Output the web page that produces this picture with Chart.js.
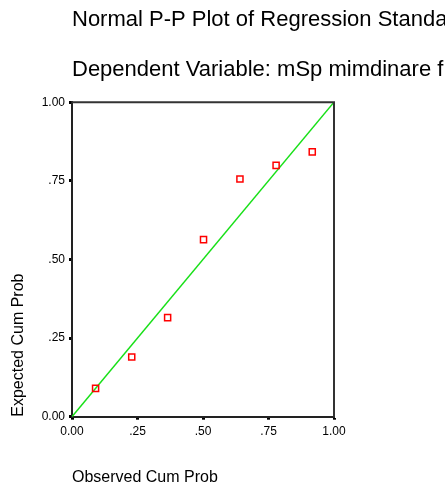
<!DOCTYPE html>
<html>
<head>
<meta charset="utf-8">
<script src="https://cdn.jsdelivr.net/npm/chart.js@4.4.1/dist/chart.umd.min.js"></script>
<style>
  html, body { margin: 0; padding: 0; background: #fff; }
  #wrap { width: 445px; height: 490px; position: relative; }
</style>
</head>
<body>
<div id="wrap"><canvas id="c" width="445" height="490"></canvas></div>
<script>
const titleLines = ['Normal P-P Plot of Regression Standardized Residual', 'Dependent Variable: mSp mimdinare f'];
const xAxisTitle = 'Observed Cum Prob';
const yAxisTitle = 'Expected Cum Prob';
const tickValues = [0, 0.25, 0.5, 0.75, 1];
const tickLabels = ['0.00', '.25', '.50', '.75', '1.00'];
const observedCumProb = [0.090, 0.228, 0.365, 0.502, 0.641, 0.779, 0.917];
const expectedCumProb = [0.090, 0.190, 0.315, 0.563, 0.756, 0.799, 0.842];
const refLineX = [0, 1];
const refLineY = [0, 1];

const FONT = "'Liberation Sans', Arial, sans-serif";

const labelFor = v => {
  const i = tickValues.findIndex(t => Math.abs(t - v) < 1e-9);
  return i >= 0 ? tickLabels[i] : '';
};

const framePlugin = {
  id: 'frame',
  afterLayout(chart) {
    if (chart.titleBlock) {
      chart.titleBlock.left = 72;
      chart.titleBlock.right = 3000;
    }
  },
  afterDatasetsDraw(chart) {
    const {ctx, chartArea: a} = chart;
    ctx.save();
    ctx.strokeStyle = '#333';
    ctx.lineWidth = 2;
    ctx.beginPath();
    ctx.moveTo(a.left, a.top);
    ctx.lineTo(a.right, a.top);
    ctx.lineTo(a.right, a.bottom);
    ctx.stroke();
    ctx.restore();
  }
};

const commonTicks = {
  color: '#000',
  font: { family: FONT, size: 12 },
  autoSkip: false,
  maxRotation: 0,
  callback: (v) => labelFor(v)
};

new Chart(document.getElementById('c'), {
  type: 'scatter',
  data: {
    datasets: [
      {
        type: 'line',
        data: refLineX.map((x, i) => ({x, y: refLineY[i]})),
        borderColor: '#18e018',
        borderWidth: 1.5,
        pointRadius: 0,
        fill: false,
        order: 2
      },
      {
        type: 'scatter',
        data: observedCumProb.map((x, i) => ({x, y: expectedCumProb[i]})),
        pointStyle: 'rect',
        pointRadius: 4.3,
        borderColor: '#ff0000',
        backgroundColor: 'rgba(0,0,0,0)',
        borderWidth: 1.5,
        order: 1
      }
    ]
  },
  options: {
    responsive: false,
    animation: false,
    devicePixelRatio: 1,
    layout: { padding: { left: 0, right: 111, top: 0, bottom: 0 } },
    plugins: {
      legend: { display: false },
      tooltip: { enabled: false },
      title: {
        display: true,
        text: titleLines,
        align: 'start',
        color: '#000',
        font: { family: FONT, size: 22, weight: 'normal', lineHeight: 2.3 },
        padding: { top: -5.5, bottom: 6.5 }
      }
    },
    scales: {
      x: {
        type: 'linear',
        min: 0, max: 1,
        afterBuildTicks: (s) => { s.ticks = tickValues.map(v => ({value: v})); },
        afterFit: (s) => { s.height = 73.3; },
        ticks: Object.assign({}, commonTicks, { padding: 5 }),
        grid: { drawOnChartArea: false, drawTicks: true, tickLength: 3, tickWidth: 3, tickColor: '#000' },
        border: { display: true, color: '#222', width: 2 },
        title: {
          display: true, text: xAxisTitle, align: 'start', color: '#000',
          font: { family: FONT, size: 16, lineHeight: 1.2 },
          padding: { top: 0, bottom: 3 }
        }
      },
      y: {
        type: 'linear',
        min: 0, max: 1,
        afterBuildTicks: (s) => { s.ticks = tickValues.map(v => ({value: v})); },
        afterFit: (s) => { s.width = 72; },
        ticks: Object.assign({}, commonTicks, { padding: 4 }),
        grid: { drawOnChartArea: false, drawTicks: true, tickLength: 3, tickWidth: 3, tickColor: '#000' },
        border: { display: true, color: '#222', width: 2 },
        title: {
          display: true, text: yAxisTitle, align: 'start', color: '#000',
          font: { family: FONT, size: 16, lineHeight: 1.2 },
          padding: { top: 8.7, bottom: 0 }
        }
      }
    }
  },
  plugins: [framePlugin]
});
</script>
</body>
</html>
